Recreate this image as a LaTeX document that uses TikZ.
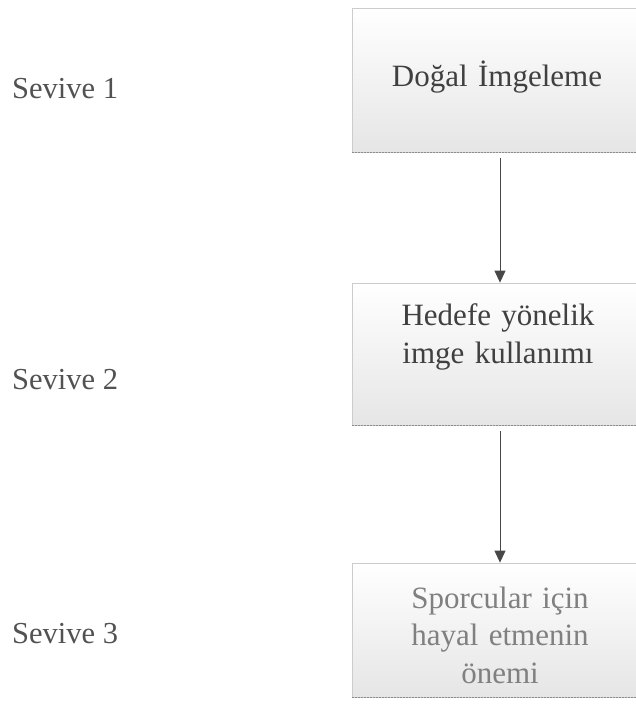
\documentclass[tikz,border=0pt]{standalone}
\usepackage{fontspec}
\setmainfont{Liberation Serif}
\usetikzlibrary{arrows.meta}
\begin{document}
\begin{tikzpicture}[x=1pt,y=-1pt,
  boxst/.style={draw=gray!40, line width=0.8pt, top color=white, bottom color=gray!20, minimum width=296pt, inner sep=0pt},
  boxtxt/.style={text width=270pt, align=center, font=\fontsize{31}{37.5}\selectfont, text=black!75, inner sep=0pt},
  lbl/.style={font=\fontsize{30.5}{36}\selectfont, text=black!68, anchor=west, inner sep=0pt},
  edge/.style={draw=black!45, line width=1.2pt, dash pattern=on 2pt off 1pt},
  arr/.style={draw=black!72, line width=1pt, shorten <=6pt, -{Triangle[length=12pt,width=11pt]}}]
\useasboundingbox (0,0) rectangle (636,707);
\fill[white] (0,0) rectangle (636,707);
\begin{scope}
\clip (0,0) rectangle (636,707);
\node[boxst, minimum height=144pt] (b1) at (500,80) {};
\node[boxst, minimum height=142pt] (b2) at (500,354) {};
\node[boxst, minimum height=134pt] (b3) at (500,630) {};
\draw[edge] (b1.south west) -- (b1.south east);
\draw[edge] (b2.south west) -- (b2.south east);
\draw[edge] (b3.south west) -- (b3.south east);
\end{scope}
\node[boxtxt] (t1) at (497,77) {Doğal İmgeleme};
\node[boxtxt] (t2) at (498,337) {Hedefe yönelik\\imge kullanımı};
\node[boxtxt, text=black!50] (t3) at (500,635) {Sporcular için\\hayal etmenin\\önemi};
\node[lbl] (s1) at (12,89) {Sevive 1};
\node[lbl] (s2) at (12,380) {Sevive 2};
\node[lbl] (s3) at (12,634) {Sevive 3};
\draw[arr] (b1.south) -- (b2.north);
\draw[arr] (b2.south) -- (b3.north);
\end{tikzpicture}
\end{document}
